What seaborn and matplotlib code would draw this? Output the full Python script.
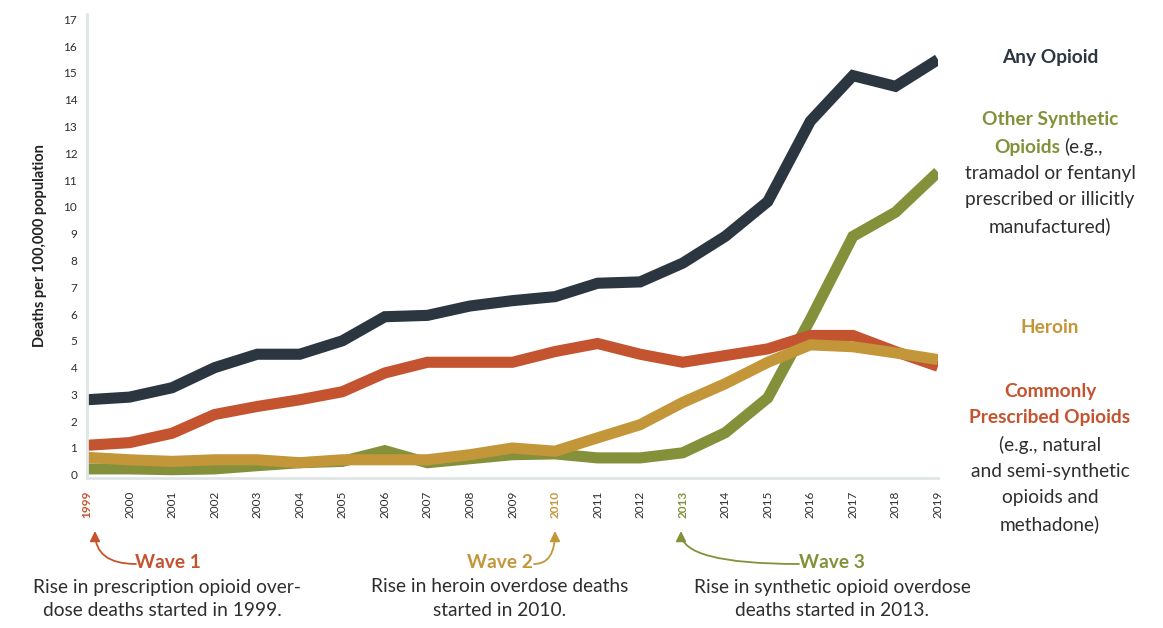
import numpy as np
import pandas as pd
import matplotlib
matplotlib.use("Agg")
import matplotlib.pyplot as plt
import seaborn as sns

years = list(range(1999, 2020))
any_opioid = [2.8, 2.9, 3.25, 4.0, 4.5, 4.5, 5.0, 5.9, 5.95, 6.3, 6.5, 6.65, 7.15, 7.2, 7.9, 8.9, 10.2, 13.2, 14.9, 14.5, 15.5]
prescribed = [1.1, 1.2, 1.55, 2.25, 2.55, 2.8, 3.1, 3.8, 4.2, 4.2, 4.2, 4.6, 4.9, 4.5, 4.2, 4.45, 4.7, 5.2, 5.2, 4.6, 4.05]
heroin = [0.65, 0.56, 0.5, 0.56, 0.56, 0.45, 0.56, 0.56, 0.56, 0.75, 1.0, 0.88, 1.38, 1.87, 2.7, 3.4, 4.2, 4.85, 4.78, 4.55, 4.3]
synthetic = [0.22, 0.22, 0.19, 0.22, 0.34, 0.45, 0.5, 0.9, 0.45, 0.6, 0.75, 0.78, 0.63, 0.63, 0.82, 1.57, 2.87, 5.8, 8.9, 9.8, 11.3]
y_ticks = list(range(0, 18))

C_DARK = "#2b3640"
C_RED = "#c4532f"
C_GOLD = "#c4963a"
C_GREEN = "#84913a"
C_TEXT = "#2e2e2e"

series = {
    "Other Synthetic Opioids": synthetic,
    "Commonly Prescribed Opioids": prescribed,
    "Heroin": heroin,
    "Any Opioid": any_opioid,
}
palette = {
    "Other Synthetic Opioids": C_GREEN,
    "Commonly Prescribed Opioids": C_RED,
    "Heroin": C_GOLD,
    "Any Opioid": C_DARK,
}
df = pd.concat([pd.DataFrame({"year": years, "rate": v, "series": k}) for k, v in series.items()])

sns.set_theme(style="white")
plt.rcParams["font.family"] = ["Lato", "DejaVu Sans"]

W, H = 1163, 628
fig = plt.figure(figsize=(W / 100, H / 100), dpi=100)
ax = fig.add_axes([87 / W, 1 - 478 / H, (938 - 87) / W, (478 - 14) / H])

sns.lineplot(data=df, x="year", y="rate", hue="series", palette=palette,
             hue_order=list(series.keys()), linewidth=8, ax=ax, legend=False,
             solid_joinstyle="miter", solid_capstyle="butt")

ax.set_xlim(1999, 2019)
ax.set_ylim(-0.12, 17.2)
ax.set_yticks(y_ticks)
ax.set_yticklabels([str(t) for t in y_ticks], fontsize=8.5, color=C_TEXT)
ax.set_xticks(years)
ax.set_xticklabels([str(y) for y in years], rotation=90, fontsize=8.5, color=C_TEXT, va="top")
ax.tick_params(axis="both", length=0)
ax.tick_params(axis="y", pad=7)
ax.tick_params(axis="x", pad=9)
for lab in ax.get_xticklabels():
    t = lab.get_text()
    if t == "1999":
        lab.set_color(C_RED); lab.set_fontweight("bold")
    elif t == "2010":
        lab.set_color(C_GOLD); lab.set_fontweight("bold")
    elif t == "2013":
        lab.set_color(C_GREEN); lab.set_fontweight("bold")
ax.set_xlabel("")
ax.set_ylabel("Deaths per 100,000 population", fontsize=10.5, fontweight="bold", color="#222222", labelpad=12)
for s in ["top", "right"]:
    ax.spines[s].set_visible(False)
for s in ["left", "bottom"]:
    ax.spines[s].set_color("#dfe5e5")
    ax.spines[s].set_linewidth(2)
ax.grid(False)


def ftext(px, py, s, **kw):
    kw.setdefault("fontsize", 13.8)
    kw.setdefault("color", C_TEXT)
    kw.setdefault("ha", "center")
    kw.setdefault("va", "center")
    fig.text(px / W, 1 - py / H, s, **kw)


# right-side labels
cx = 1050
ftext(cx, 57, "Any Opioid", color=C_DARK, fontweight="bold")
ftext(cx, 120, "Other Synthetic", color=C_GREEN, fontweight="bold")
ftext(1060, 147, "Opioids", color=C_GREEN, fontweight="bold", ha="right")
ftext(1064, 147, "(e.g.,", ha="left")
ftext(cx, 173, "tramadol or fentanyl")
ftext(cx, 200, "prescribed or illicitly")
ftext(cx, 226, "manufactured)")
ftext(cx, 327, "Heroin", color=C_GOLD, fontweight="bold")
ftext(cx, 392, "Commonly", color=C_RED, fontweight="bold")
ftext(cx, 418, "Prescribed Opioids", color=C_RED, fontweight="bold")
ftext(cx, 445, "(e.g., natural")
ftext(cx, 471, "and semi-synthetic")
ftext(cx, 498, "opioids and")
ftext(cx, 524, "methadone)")

# wave annotations
ftext(168, 563, "Wave 1", color=C_RED, fontweight="bold")
ftext(167, 587, "Rise in prescription opioid over-")
ftext(162, 611, "dose deaths started in 1999.")
ftext(500, 563, "Wave 2", color=C_GOLD, fontweight="bold")
ftext(500, 587, "Rise in heroin overdose deaths")
ftext(500, 611, "started in 2010.")
ftext(832, 563, "Wave 3", color=C_GREEN, fontweight="bold")
ftext(832, 587, "Rise in synthetic opioid overdose")
ftext(832, 611, "deaths started in 2013.")


def arrow(x0, y0, x1, y1, color):
    fig.add_artist(matplotlib.patches.FancyArrowPatch(
        (x0 / W, 1 - y0 / H), (x1 / W, 1 - y1 / H), transform=fig.transFigure,
        arrowstyle="-|>", mutation_scale=15, lw=1.3, color=color,
        connectionstyle="angle3,angleA=0,angleB=90", shrinkA=0, shrinkB=0))


arrow(136, 564, 95, 531, C_RED)
arrow(534, 564, 555, 531, C_GOLD)
arrow(799, 564, 681, 531, C_GREEN)

fig.savefig("out.png", dpi=100)
